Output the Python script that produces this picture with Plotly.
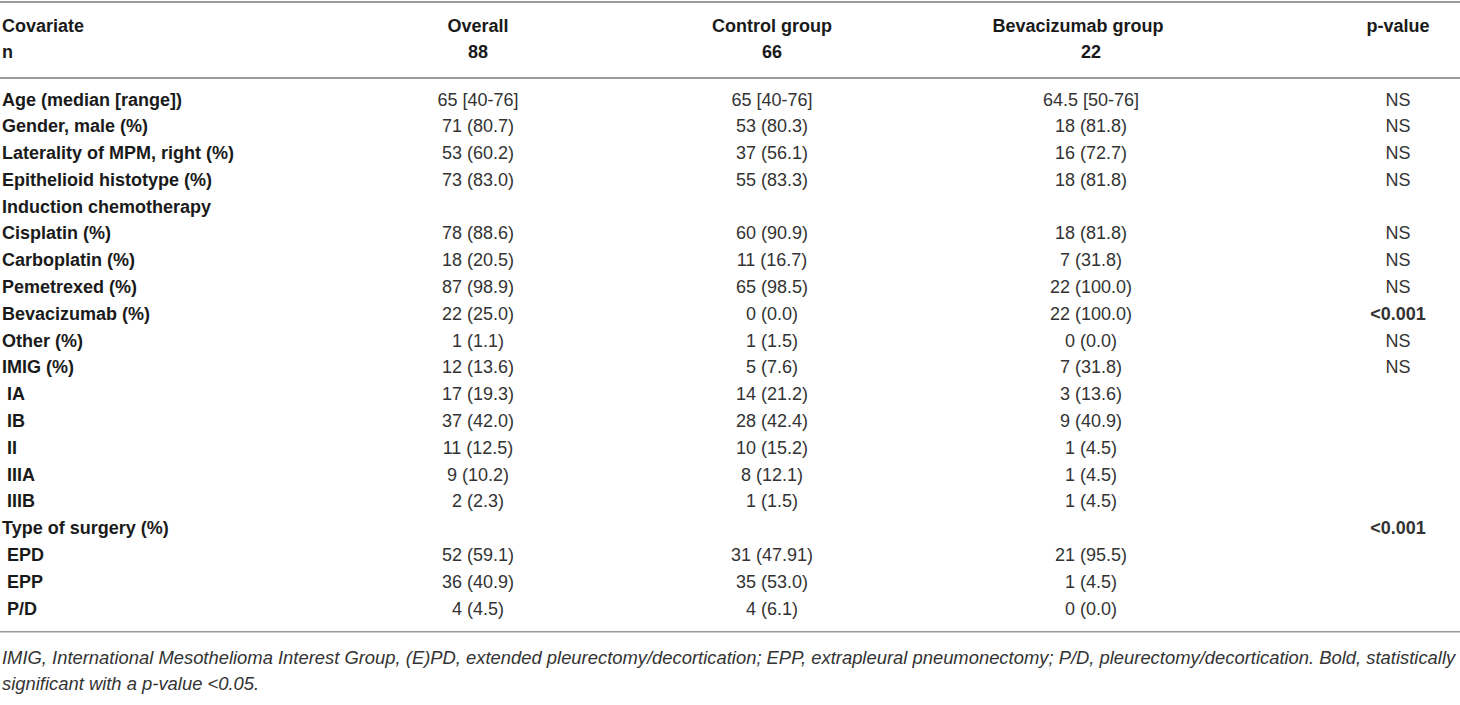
import plotly.graph_objects as go

# table content
covariates = ["Age (median [range])", "Gender, male (%)", "Laterality of MPM, right (%)",
              "Epithelioid histotype (%)", "Induction chemotherapy", "Cisplatin (%)",
              "Carboplatin (%)", "Pemetrexed (%)", "Bevacizumab (%)", "Other (%)", "IMIG (%)",
              "\u00a0IA", "\u00a0IB", "\u00a0II", "\u00a0IIIA", "\u00a0IIIB",
              "Type of surgery (%)", "\u00a0EPD", "\u00a0EPP", "\u00a0P/D"]
overall = ["65 [40-76]", "71 (80.7)", "53 (60.2)", "73 (83.0)", "", "78 (88.6)", "18 (20.5)",
           "87 (98.9)", "22 (25.0)", "1 (1.1)", "12 (13.6)", "17 (19.3)", "37 (42.0)",
           "11 (12.5)", "9 (10.2)", "2 (2.3)", "", "52 (59.1)", "36 (40.9)", "4 (4.5)"]
control = ["65 [40-76]", "53 (80.3)", "37 (56.1)", "55 (83.3)", "", "60 (90.9)", "11 (16.7)",
           "65 (98.5)", "0 (0.0)", "1 (1.5)", "5 (7.6)", "14 (21.2)", "28 (42.4)",
           "10 (15.2)", "8 (12.1)", "1 (1.5)", "", "31 (47.91)", "35 (53.0)", "4 (6.1)"]
bevacizumab = ["64.5 [50-76]", "18 (81.8)", "16 (72.7)", "18 (81.8)", "", "18 (81.8)", "7 (31.8)",
               "22 (100.0)", "22 (100.0)", "0 (0.0)", "7 (31.8)", "3 (13.6)", "9 (40.9)",
               "1 (4.5)", "1 (4.5)", "1 (4.5)", "", "21 (95.5)", "1 (4.5)", "0 (0.0)"]
pvalues = ["NS", "NS", "NS", "NS", "", "NS", "NS", "NS", "<0.001", "NS", "NS",
           "", "", "", "", "", "<0.001", "", "", ""]

headers = ["Overall", "Control group", "Bevacizumab group", "p-value"]
n_values = ["88", "66", "22", ""]

footnote = ["IMIG, International Mesothelioma Interest Group, (E)PD, extended pleurectomy/decortication; "
            "EPP, extrapleural pneumonectomy; P/D, pleurectomy/decortication. Bold, statistically",
            "significant with a p-value <0.05."]

# layout of columns (x in px) and rows
col_x = [478, 772, 1091, 1398]
head_x = [478, 772, 1078, 1398]
label_x = 2
rows = list(range(len(covariates)))

BODY = "Liberation Sans"
INK = "#1a1a1a"
DATA_INK = "#333333"
RULE = "#9a9a9a"

fig = go.Figure()

# covariate labels
fig.add_trace(go.Scatter(x=[label_x] * len(rows), y=rows, mode="text",
                         text=["<b>%s</b>" % c for c in covariates],
                         textposition="middle right",
                         textfont=dict(family=BODY, size=18, color=INK),
                         hoverinfo="skip", showlegend=False))

# value columns
for cx, vals in zip(col_x, [overall, control, bevacizumab, pvalues]):
    txt = []
    for v in vals:
        if v.startswith("<"):
            txt.append("<b>&lt;%s</b>" % v[1:])
        else:
            txt.append(v)
    fig.add_trace(go.Scatter(x=[cx] * len(rows), y=rows, mode="text", text=txt,
                             textposition="middle center",
                             textfont=dict(family=BODY, size=18, color=DATA_INK),
                             hoverinfo="skip", showlegend=False))

# header rows
fig.add_trace(go.Scatter(x=[label_x, label_x], y=[-2.76, -1.79], mode="text",
                         text=["<b>Covariate</b>", "<b>n</b>"], textposition="middle right",
                         textfont=dict(family=BODY, size=18, color=INK),
                         hoverinfo="skip", showlegend=False))
fig.add_trace(go.Scatter(x=head_x, y=[-2.76] * 4, mode="text",
                         text=["<b>%s</b>" % h for h in headers], textposition="middle center",
                         textfont=dict(family=BODY, size=18, color=INK),
                         hoverinfo="skip", showlegend=False))
fig.add_trace(go.Scatter(x=col_x, y=[-1.79] * 4, mode="text",
                         text=["<b>%s</b>" % n for n in n_values], textposition="middle center",
                         textfont=dict(family=BODY, size=18, color=INK),
                         hoverinfo="skip", showlegend=False))

# horizontal rules
for yy, w in [(-3.69, 2), (-0.86, 2), (19.81, 1.5)]:
    fig.add_shape(type="line", xref="paper", x0=0, x1=1, yref="y", y0=yy, y1=yy,
                  line=dict(color=RULE, width=w))

# footnote
for i, line in enumerate(footnote):
    fig.add_annotation(x=0, xref="paper", y=20.78 + i * 0.94, yref="y", text="<i>%s</i>" % line,
                       showarrow=False, xanchor="left", yanchor="middle",
                       font=dict(family=BODY, size=18.4, color=DATA_INK))

fig.update_xaxes(range=[0, 1460], visible=False, fixedrange=True)
fig.update_yaxes(range=[22.54, -3.769], visible=False, fixedrange=True)
fig.update_layout(width=1460, height=705, margin=dict(l=0, r=0, t=0, b=0),
                  plot_bgcolor="white", paper_bgcolor="white")

fig.write_html("out.html", config={"displayModeBar": False},
               post_script="document.body.style.margin='0';document.body.style.overflow='hidden';")
